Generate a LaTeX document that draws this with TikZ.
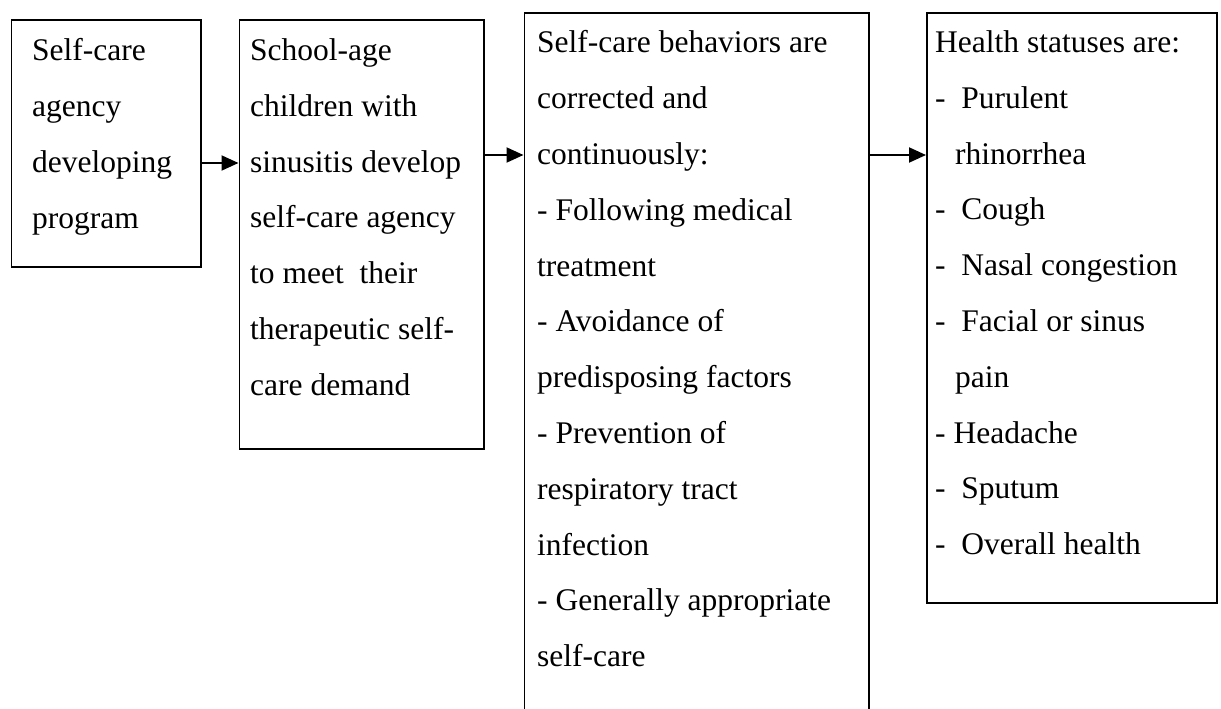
\documentclass[tikz,border=0pt]{standalone}
\usepackage{fontspec}
\setmainfont{Liberation Serif}
\usetikzlibrary{arrows.meta}
\tikzset{
  box/.style={draw=black, line width=1.8bp, anchor=north west, inner sep=0, fill=none},
  txt/.style={anchor=north west, inner sep=0, align=left,
    font=\fontsize{31.5bp}{55.8bp}\selectfont},
  arr/.style={draw=black, line width=2bp, -{Triangle[length=17bp,width=15bp]}}
}
\begin{document}
\begin{tikzpicture}[x=1bp,y=1bp]
\useasboundingbox (0,0) rectangle (1221,-709);
\clip (0,0) rectangle (1221,-709);
\fill[white] (0,0) rectangle (1221,-709);
% boxes
\node[box, minimum width=189.5bp, minimum height=246.5bp] (b1) at (10.5,-19.5) {};
\node[box, minimum width=244.5bp, minimum height=429bp] (b2) at (238.5,-19) {};
\node[box, minimum width=344.5bp, minimum height=710bp] (b3) at (523.5,-12.5) {};
\node[box, minimum width=290bp, minimum height=590bp] (b4) at (926,-12) {};
% texts
\node[txt] (t1) at (32,-38.5) {Self-care\\agency\\developing\\program};
\node[txt] (t2) at (250,-38.5) {School-age\\children with\\sinusitis develop\\self-care agency\\to meet\ \ their\\therapeutic self-\\care demand};
\node[txt] (t3) at (537,-30.5) {Self-care behaviors are\\corrected and\\continuously:\\- Following medical\\treatment\\- Avoidance of\\predisposing factors\\- Prevention of\\respiratory tract\\infection\\- Generally appropriate\\self-care};
\node[txt] (t4) at (935,-30.5) {Health statuses are:\\-\ \ Purulent\\\hspace*{20bp}rhinorrhea\\-\ \ Cough\\-\ \ Nasal congestion\\-\ \ Facial or sinus\\\hspace*{20bp}pain\\- Headache\\-\ \ Sputum\\-\ \ Overall health};
% arrows
\draw[arr] ([yshift=-143.5bp]b1.north east) -- ([yshift=-143.5bp]b1.north east -| b2.west);
\draw[arr] ([yshift=-136bp]b2.north east) -- ([yshift=-136bp]b2.north east -| b3.west);
\draw[arr] ([yshift=-142.5bp]b3.north east) -- ([yshift=-142.5bp]b3.north east -| b4.west);
\end{tikzpicture}
\end{document}
